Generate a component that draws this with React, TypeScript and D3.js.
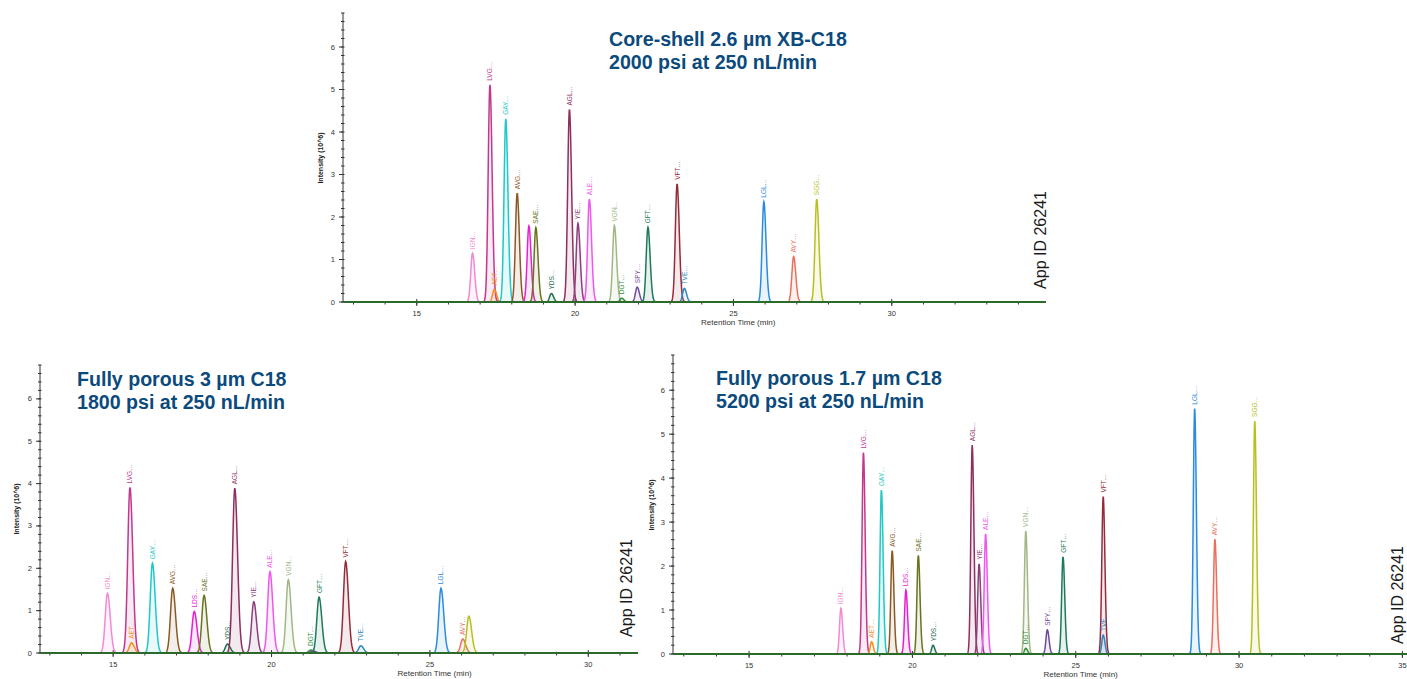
import React, { useRef, useEffect } from "react";
import * as d3 from "d3";

// peptides in elution order, shared by the three columns
const peptides = ["IGN", "LVG", "AET", "GAY", "AVG", "LDS", "SAE", "YDS", "AGL", "YIE", "ALE", "VGN", "DGT", "SPY", "GFT", "VFT", "TVE", "LGL", "AVY", "SGG"];
const peptideColors = ["#f28ad2", "#c2388f", "#f5901e", "#22c7c7", "#8b5a24", "#e81fd0", "#6b7320", "#1f6e4f", "#8e2f5f", "#8c3f7c", "#ee58ee", "#a3b786", "#2f8f3a", "#6e4a9e", "#1d7a5c", "#962c3b", "#2e87c0", "#2b8be0", "#e8705c", "#b8c020"];

// Core-shell 2.6 µm XB-C18 (retention time min, intensity 10^6)
const coreShellTimes = [16.76, 17.31, 17.45, 17.81, 18.17, 18.54, 18.76, 19.25, 19.82, 20.09, 20.45, 21.24, 21.47, 21.96, 22.3, 23.22, 23.45, 25.96, 26.9, 27.63];
const coreShellHeights = [1.15, 5.11, 0.3, 4.31, 2.56, 1.79, 1.75, 0.2, 4.53, 1.85, 2.42, 1.8, 0.09, 0.35, 1.76, 2.78, 0.32, 2.36, 1.07, 2.42];
const coreShellLabeled = [1, 1, 1, 1, 1, 0, 1, 1, 1, 1, 1, 1, 1, 1, 1, 1, 1, 1, 1, 1];

// Fully porous 3 µm C18
const porous3Times = [14.82, 15.53, 15.58, 16.24, 16.88, 17.56, 17.87, 18.61, 18.84, 19.44, 19.95, 20.53, 21.24, 21.3, 21.5, 22.34, 22.82, 25.35, 26.04, 26.23];
const porous3Heights = [1.41, 3.91, 0.24, 2.12, 1.53, 0.98, 1.36, 0.21, 3.89, 1.21, 1.92, 1.73, 0.07, 0.05, 1.32, 2.16, 0.17, 1.53, 0.33, 0.87];
const porous3Labeled = [1, 1, 1, 1, 1, 1, 1, 1, 1, 1, 1, 1, 1, 0, 1, 1, 1, 1, 1, 0];

// Fully porous 1.7 µm C18
const porous17Times = [17.81, 18.5, 18.75, 19.05, 19.38, 19.8, 20.18, 20.63, 21.83, 22.04, 22.24, 23.47, 23.47, 24.13, 24.61, 25.84, 25.84, 28.64, 29.26, 30.48];
const porous17Heights = [1.04, 4.58, 0.28, 3.73, 2.35, 1.45, 2.24, 0.2, 4.75, 2.05, 2.73, 2.8, 0.13, 0.55, 2.21, 3.58, 0.43, 5.58, 2.61, 5.3];
const porous17Labeled = [1, 1, 1, 1, 1, 1, 1, 1, 1, 1, 1, 1, 1, 1, 1, 1, 1, 1, 1, 1];

const yTicks = [0, 1, 2, 3, 4, 5, 6];
const xTicks = [15, 20, 25, 30, 35];

const titleColor = "#0b4a7c";
const font = "'Liberation Sans', Arial, sans-serif";

const panels = [
  {
    times: coreShellTimes, heights: coreShellHeights, labeled: coreShellLabeled,
    title: ["Core-shell 2.6 µm XB-C18", "2000 psi at 250 nL/min"],
    xDomain: [12.67, 34.87], xRange: [343, 1046], yRange: [302, 13], sigma: 0.055,
    titleX: 609, titleY: 46, appX: 1046, appY: 240, yLabelX: 323, yLabelY: 158,
  },
  {
    times: porous3Times, heights: porous3Heights, labeled: porous3Labeled,
    title: ["Fully porous 3 µm C18", "1800 psi at 250 nL/min"],
    xDomain: [12.69, 31.57], xRange: [40, 638], yRange: [653, 365], sigma: 0.07,
    titleX: 77, titleY: 386, appX: 632, appY: 588, yLabelX: 19, yLabelY: 509,
  },
  {
    times: porous17Times, heights: porous17Heights, labeled: porous17Labeled,
    title: ["Fully porous 1.7 µm C18", "5200 psi at 250 nL/min"],
    xDomain: [12.67, 35.6], xRange: [673, 1422], yRange: [654, 355], sigma: 0.042,
    titleX: 716, titleY: 385, appX: 1403, appY: 595, yLabelX: 654, yLabelY: 505,
  },
];

const App = () => {
  const chart = useRef<SVGSVGElement>(null);

  useEffect(() => {
    const svg = d3.select(chart.current);
    svg.selectAll("*").remove();

    panels.forEach((p) => {
      const x = d3.scaleLinear().domain(p.xDomain).range(p.xRange);
      const y = d3.scaleLinear().domain([0, 6.8]).range(p.yRange);
      const g = svg.append("g");
      const x0 = p.xRange[0];
      const base = y(0);

      // y axis
      g.append("line").attr("x1", x0).attr("x2", x0).attr("y1", y(0)).attr("y2", y(6.8)).attr("stroke", "#333").attr("stroke-width", 1);
      g.selectAll(".ymin").data(d3.range(0, 6.81, 0.2)).join("line")
        .attr("x1", x0 - 2).attr("x2", x0 + 1.5).attr("y1", (d) => y(d)).attr("y2", (d) => y(d))
        .attr("stroke", "#333").attr("stroke-width", 1);
      g.selectAll(".ymaj").data(yTicks).join("line")
        .attr("x1", x0 - 4).attr("x2", x0).attr("y1", (d) => y(d)).attr("y2", (d) => y(d))
        .attr("stroke", "#333");
      g.selectAll(".ylab").data(yTicks).join("text")
        .attr("x", x0 - 8).attr("y", (d) => y(d) + 2.5).attr("text-anchor", "end")
        .attr("font-size", 7.5).attr("fill", "#333").attr("font-family", font).text((d) => d);

      g.append("text")
        .attr("transform", `translate(${p.yLabelX},${p.yLabelY}) rotate(-90)`)
        .attr("text-anchor", "middle").attr("font-size", 7).attr("font-weight", "bold")
        .attr("fill", "#222").attr("font-family", font).text("Intensity (10^6)");

      // x axis
      g.append("line").attr("x1", x0).attr("x2", p.xRange[1]).attr("y1", base).attr("y2", base).attr("stroke", "#222").attr("stroke-width", 1);
      const minor = d3.range(13, Math.floor(p.xDomain[1]) + 1);
      g.selectAll(".xmin").data(minor).join("line")
        .attr("x1", (d) => x(d)).attr("x2", (d) => x(d)).attr("y1", base).attr("y2", base + 2.5)
        .attr("stroke", "#333");
      const majors = xTicks.filter((d) => d <= p.xDomain[1]);
      g.selectAll(".xmaj").data(majors).join("line")
        .attr("x1", (d) => x(d)).attr("x2", (d) => x(d)).attr("y1", base - 3).attr("y2", base + 4)
        .attr("stroke", "#333");
      g.selectAll(".xlab").data(majors).join("text")
        .attr("x", (d) => x(d)).attr("y", base + 14).attr("text-anchor", "middle")
        .attr("font-size", 7.5).attr("fill", "#333").attr("font-family", font).text((d) => d);
      g.append("text")
        .attr("x", x(25.15)).attr("y", base + 23).attr("text-anchor", "middle")
        .attr("font-size", 8).attr("fill", "#333").attr("font-family", font).text("Retention Time (min)");

      // peaks
      const line = d3.line<[number, number]>().x((d) => x(d[0])).y((d) => y(d[1]));
      const area = d3.area<[number, number]>().x((d) => x(d[0])).y0(base).y1((d) => y(d[1]));
      p.times.forEach((t, i) => {
        const h = p.heights[i];
        const s = p.sigma;
        const pts: [number, number][] = d3.range(-4.5, 4.51, 0.15).map((k) => {
          const tail = k > 0 ? 1.25 : 1;
          return [t + k * s * tail, h * Math.exp(-0.5 * k * k)];
        });
        g.append("path").attr("d", area(pts)).attr("fill", peptideColors[i]).attr("opacity", 0.1);
        g.append("path").attr("d", line(pts)).attr("fill", "none")
          .attr("stroke", peptideColors[i]).attr("stroke-width", 1.5);
      });

      // baseline trace
      g.append("line").attr("x1", x0 + 1).attr("x2", p.xRange[1]).attr("y1", base).attr("y2", base)
        .attr("stroke", "#2b6a2b").attr("stroke-width", 1.8);

      // peak labels
      p.times.forEach((t, i) => {
        if (!p.labeled[i]) return;
        g.append("text")
          .attr("transform", `translate(${x(t) + 2.5},${y(p.heights[i]) - 4}) rotate(-90)`)
          .attr("font-size", 6.5).attr("fill", peptideColors[i]).attr("font-family", font)
          .text(peptides[i] + "…");
      });

      // title
      p.title.forEach((line, k) => {
        g.append("text").attr("x", p.titleX).attr("y", p.titleY + k * 22.5)
          .attr("font-size", 19.6).attr("font-weight", "bold").attr("fill", titleColor)
          .attr("font-family", font).text(line);
      });

      g.append("text")
        .attr("transform", `translate(${p.appX},${p.appY}) rotate(-90)`)
        .attr("text-anchor", "middle").attr("font-size", 16).attr("fill", "#1a1a1a")
        .attr("font-family", font).text("App ID 26241");
    });
  });

  return (
    <div style={{ position: "absolute", left: 0, top: 0, width: 1407, height: 679, background: "#fff" }}>
      <svg ref={chart} width={1407} height={679} />
    </div>
  );
};

export default App;
